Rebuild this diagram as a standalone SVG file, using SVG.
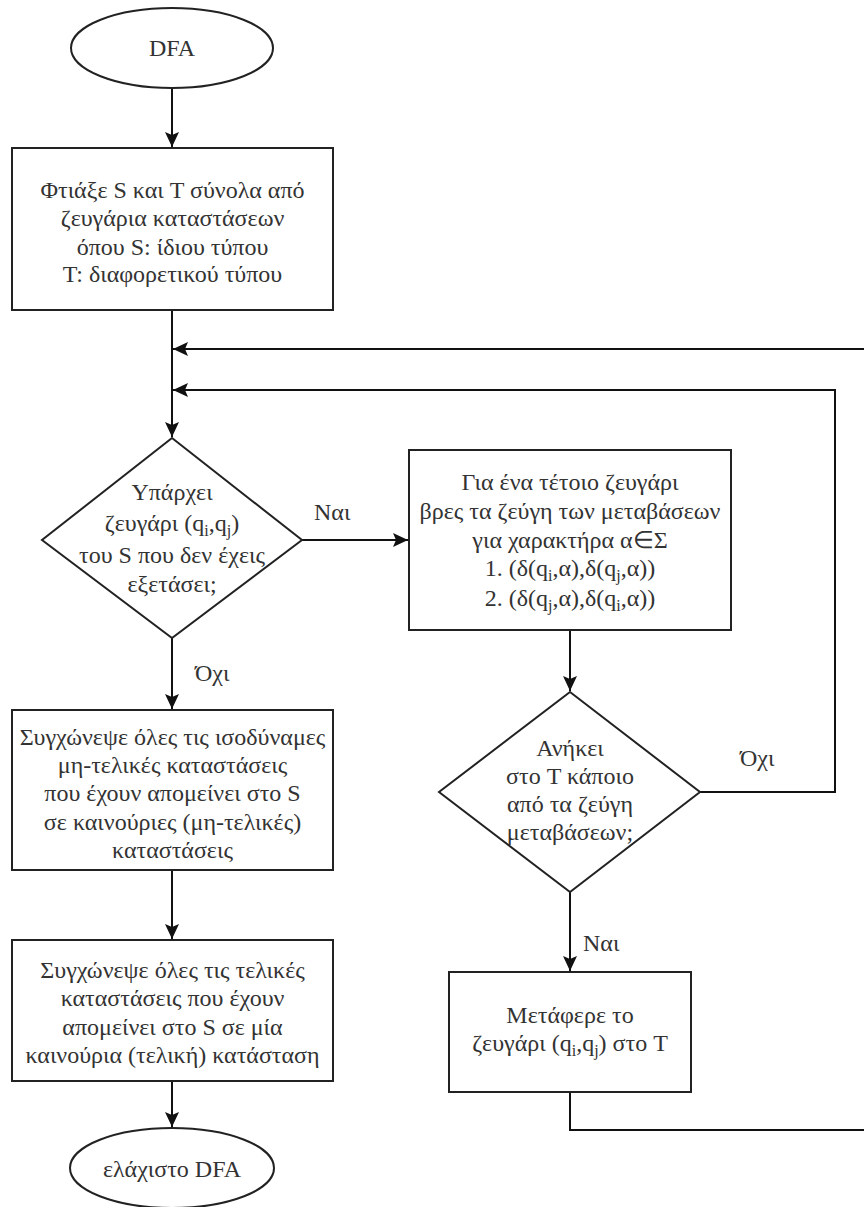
<svg xmlns="http://www.w3.org/2000/svg" width="864" height="1207" viewBox="0 0 864 1207" font-family="Liberation Serif, serif">
<style>
.shape{fill:#fff;stroke:#222;stroke-width:2}
.t{font-size:24px;fill:#333;text-anchor:middle}
.lbl{font-size:24px;fill:#333}
.sub{font-size:16px}
.c{fill:none;stroke:#111;stroke-width:2}
</style>
<defs>
<marker id="arr" markerWidth="16" markerHeight="14" refX="15" refY="7" orient="auto" markerUnits="userSpaceOnUse">
<path d="M0,0 L15,7 L0,14 L3,7 Z" fill="#111"/>
</marker>
</defs>
<rect width="864" height="1207" fill="#fff"/>
<g id="connectors">
<path class="c" d="M172,89 V147" marker-end="url(#arr)"/>
<path class="c" d="M172,310 V437" marker-end="url(#arr)"/>
<path class="c" d="M866,349 H173" marker-end="url(#arr)"/>
<path class="c" d="M700,792 H835 V390 H173" marker-end="url(#arr)"/>
<path class="c" d="M302,540 H408" marker-end="url(#arr)"/>
<path class="c" d="M172,638 V709" marker-end="url(#arr)"/>
<path class="c" d="M570,630 V691" marker-end="url(#arr)"/>
<path class="c" d="M570,892 V971" marker-end="url(#arr)"/>
<path class="c" d="M172,870 V939" marker-end="url(#arr)"/>
<path class="c" d="M172,1081 V1127" marker-end="url(#arr)"/>
<path class="c" d="M570,1092 V1130 H866"/>
<text class="lbl" x="314" y="520">Ναι</text>
<text class="lbl" x="195" y="681">Όχι</text>
<text class="lbl" x="740" y="766">Όχι</text>
<text class="lbl" x="583" y="951">Ναι</text>
</g>
<g id="start">
<ellipse class="shape" cx="172" cy="48" rx="101" ry="40"/>
<text class="t" x="172" y="56">DFA</text>
</g>
<g id="init">
<rect class="shape" x="12" y="148" width="321" height="162"/>
<text class="t" x="172.5" y="198">Φτιάξε S και T σύνολα από</text>
<text class="t" x="172.5" y="226">ζευγάρια καταστάσεων</text>
<text class="t" x="172.5" y="255">όπου S: ίδιου τύπου</text>
<text class="t" x="172.5" y="282">T: διαφορετικού τύπου</text>
</g>
<g id="decision1">
<polygon class="shape" points="172,438 302,540 172,638 42,540"/>
<text class="t" x="172" y="500">Υπάρχει</text>
<text class="t" x="172" y="531">ζευγάρι (q<tspan class="sub" dy="5">i</tspan><tspan dy="-5">,q</tspan><tspan class="sub" dy="5">j</tspan><tspan dy="-5">)</tspan></text>
<text class="t" x="172" y="563">του S που δεν έχεις</text>
<text class="t" x="172" y="592">εξετάσει;</text>
</g>
<g id="transitions">
<rect class="shape" x="409" y="450" width="322" height="180"/>
<text class="t" x="570" y="490">Για ένα τέτοιο ζευγάρι</text>
<text class="t" x="570" y="519">βρες τα ζεύγη των μεταβάσεων</text>
<text class="t" x="570" y="548">για χαρακτήρα α∈Σ</text>
<text class="t" x="570" y="576">1. (δ(q<tspan class="sub" dy="5">i</tspan><tspan dy="-5">,α),δ(q</tspan><tspan class="sub" dy="5">j</tspan><tspan dy="-5">,α))</tspan></text>
<text class="t" x="570" y="606">2. (δ(q<tspan class="sub" dy="5">j</tspan><tspan dy="-5">,α),δ(q</tspan><tspan class="sub" dy="5">i</tspan><tspan dy="-5">,α))</tspan></text>
</g>
<g id="decision2">
<polygon class="shape" points="570,692 700,792 570,892 439,792"/>
<text class="t" x="570" y="756">Ανήκει</text>
<text class="t" x="570" y="784">στο T κάποιο</text>
<text class="t" x="570" y="812">από τα ζεύγη</text>
<text class="t" x="570" y="840">μεταβάσεων;</text>
</g>
<g id="move">
<rect class="shape" x="449" y="972" width="242" height="120"/>
<text class="t" x="570" y="1023">Μετάφερε το</text>
<text class="t" x="570" y="1051">ζευγάρι (q<tspan class="sub" dy="5">i</tspan><tspan dy="-5">,q</tspan><tspan class="sub" dy="5">j</tspan><tspan dy="-5">) στο T</tspan></text>
</g>
<g id="merge-nonfinal">
<rect class="shape" x="12" y="710" width="321" height="160"/>
<text class="t" x="172.5" y="745">Συγχώνεψε όλες τις ισοδύναμες</text>
<text class="t" x="172.5" y="773">μη-τελικές καταστάσεις</text>
<text class="t" x="172.5" y="801">που έχουν απομείνει στο S</text>
<text class="t" x="172.5" y="830">σε καινούριες (μη-τελικές)</text>
<text class="t" x="172.5" y="858">καταστάσεις</text>
</g>
<g id="merge-final">
<rect class="shape" x="12" y="940" width="321" height="141"/>
<text class="t" x="172.5" y="978">Συγχώνεψε όλες τις τελικές</text>
<text class="t" x="172.5" y="1006">καταστάσεις που έχουν</text>
<text class="t" x="172.5" y="1035">απομείνει στο S σε μία</text>
<text class="t" x="172.5" y="1063">καινούρια (τελική) κατάσταση</text>
</g>
<g id="end">
<ellipse class="shape" cx="172" cy="1168" rx="102" ry="40"/>
<text class="t" x="172" y="1177">ελάχιστο DFA</text>
</g>
</svg>
